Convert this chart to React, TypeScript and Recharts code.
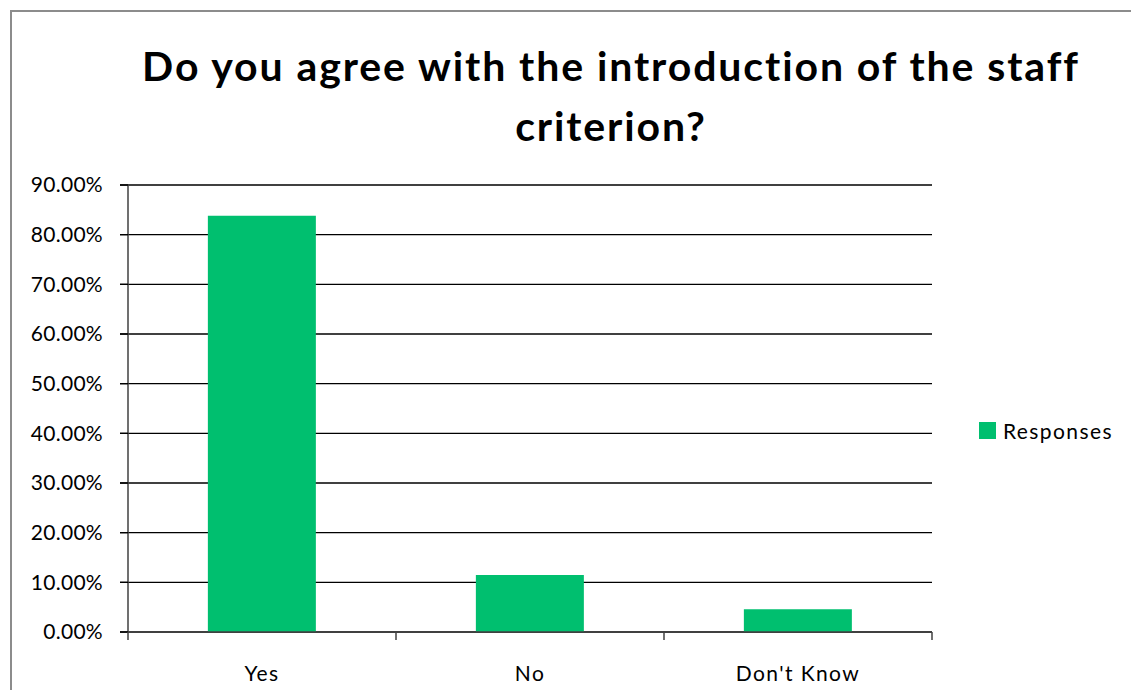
import React from 'react';
import { BarChart, Bar, XAxis, YAxis, CartesianGrid } from 'recharts';

// Survey answers, shares as percentages
const categories = ['Yes', 'No', "Don't Know"];
const responses = [83.8, 11.5, 4.6];
const yTicks = [0, 10, 20, 30, 40, 50, 60, 70, 80, 90];

const seriesName = 'Responses';
const barColor = '#00BF6F';
const font = 'Lato, "Open Sans", sans-serif';

const data = categories.map((name, i) => ({ name, value: responses[i] }));

export default function App() {
  return (
    <div
      style={{
        position: 'absolute',
        left: 0,
        top: 0,
        width: 1131,
        height: 690,
        background: '#fff',
        overflow: 'hidden',
        fontFamily: font,
      }}
    >
      {/* outer chart frame */}
      <div
        style={{
          position: 'absolute',
          left: 10,
          top: 10,
          width: 1200,
          height: 800,
          borderLeft: '2px solid #8c8c8c',
          borderTop: '2px solid #8c8c8c',
        }}
      />
      <div
        style={{
          position: 'absolute',
          left: 111,
          top: 36,
          width: 1000,
          textAlign: 'center',
          fontWeight: 'bold',
          fontSize: 41,
          letterSpacing: 1.9,
          lineHeight: '60px',
          color: '#000',
        }}
      >
        Do you agree with the introduction of the staff
        <br />
        criterion?
      </div>
      <div style={{ position: 'absolute', left: 0, top: 0 }}>
        <BarChart
          width={1131}
          height={690}
          data={data}
          margin={{ top: 185, right: 199, bottom: 0, left: 0 }}
          barCategoryGap="29.8%"
        >
          <CartesianGrid
            vertical={false}
            stroke="#000"
            strokeWidth={1.3}
            x={120}
            width={812}
          />
          <XAxis
            dataKey="name"
            height={58}
            axisLine={{ stroke: '#404040', strokeWidth: 1.5 }}
            tickLine={false}
            tick={{ fill: '#000', fontSize: 21, fontFamily: font, letterSpacing: 1.4 }}
            tickMargin={28}
          />
          <YAxis
            width={128}
            domain={[0, 90]}
            ticks={yTicks}
            interval={0}
            tickFormatter={(v: number) => `${v.toFixed(2)}%`}
            axisLine={{ stroke: '#404040', strokeWidth: 1.5 }}
            tickLine={{ stroke: '#000', strokeWidth: 1.3 }}
            tickSize={8}
            tickMargin={17}
            tick={{ fill: '#000', fontSize: 21, fontFamily: font, letterSpacing: 0.3 }}
          />
          <Bar dataKey="value" name={seriesName} fill={barColor} isAnimationActive={false} />
        </BarChart>
      </div>
      {/* category separator ticks on the x axis */}
      <svg style={{ position: 'absolute', left: 0, top: 0 }} width={1131} height={690}>
        {[0, 1, 2, 3].map((i) => {
          const x = 128 + (i * 804) / 3;
          return <line key={i} x1={x} x2={x} y1={632} y2={640} stroke="#404040" strokeWidth={1.5} />;
        })}
      </svg>
      <div
        style={{
          position: 'absolute',
          left: 979,
          top: 418,
          display: 'flex',
          alignItems: 'center',
          fontSize: 21,
          letterSpacing: 1.4,
          color: '#000',
        }}
      >
        <span style={{ display: 'inline-block', width: 17, height: 17, background: barColor, marginRight: 7 }} />
        {seriesName}
      </div>
    </div>
  );
}
